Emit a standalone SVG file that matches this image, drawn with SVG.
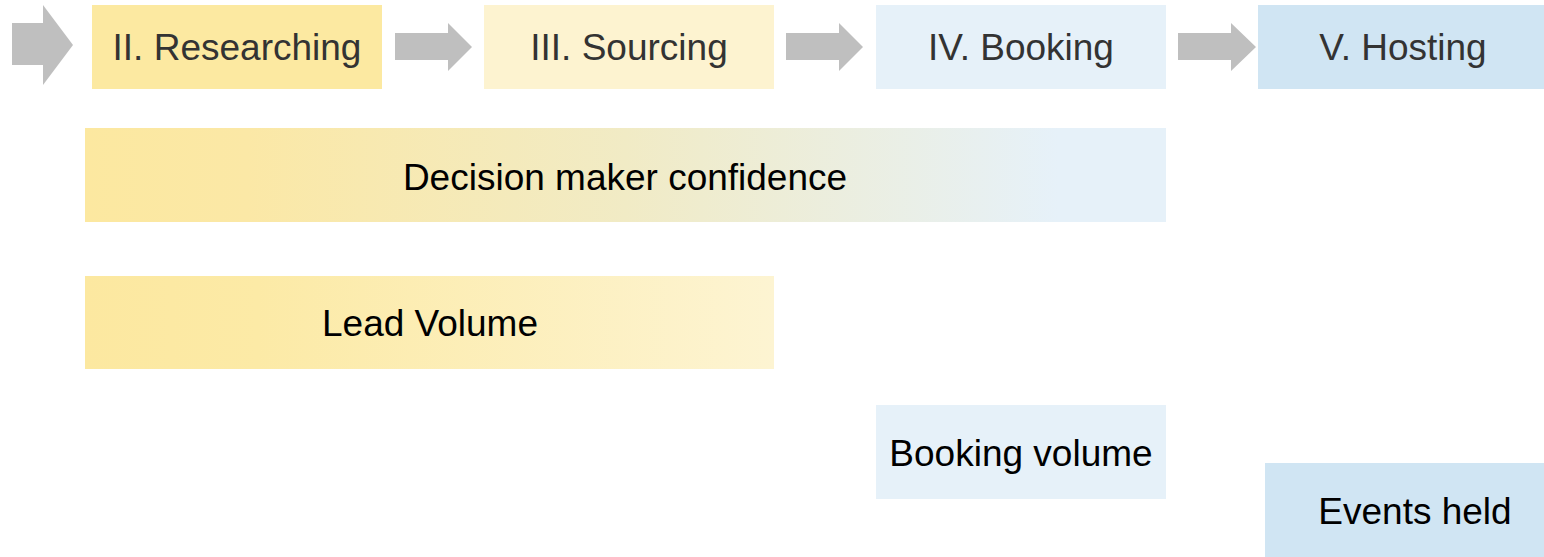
<svg xmlns="http://www.w3.org/2000/svg" width="1544" height="557" viewBox="0 0 1544 557">
<style>
.stage{font-family:"Liberation Sans",Arial,sans-serif;font-size:37px;fill:#333333;text-anchor:middle}
.metric{font-family:"Liberation Sans",Arial,sans-serif;font-size:37px;fill:#000000;text-anchor:middle}
.arrow{fill:#BFBFBF}
</style>
<defs>
<linearGradient id="gDec" x1="0" y1="0" x2="1" y2="0">
<stop offset="0" stop-color="#FCE8A0"/>
<stop offset="0.15" stop-color="#FBE8A6"/>
<stop offset="0.5" stop-color="#F1EBC5"/>
<stop offset="0.9" stop-color="#E6F1F9"/>
<stop offset="1" stop-color="#E6F1F9"/>
</linearGradient>
<linearGradient id="gLead" x1="0" y1="0" x2="1" y2="0">
<stop offset="0" stop-color="#FCE8A0"/>
<stop offset="0.25" stop-color="#FCEAA6"/>
<stop offset="1" stop-color="#FDF4D2"/>
</linearGradient>
</defs>
<g id="connectors">
<polygon class="arrow" points="12,23 43,23 43,5 73,45 43,85 43,65 12,65"/>
<polygon class="arrow" points="395,33 448,33 448,23 472,47 448,71 448,60 395,60"/>
<polygon class="arrow" points="786,33 839,33 839,23 863,47 839,71 839,60 786,60"/>
<polygon class="arrow" points="1178,33 1231,33 1231,23 1256,47 1231,71 1231,60 1178,60"/>
</g>
<g id="stage-researching">
<rect x="92" y="5" width="290" height="84" fill="#FCE9A1"/>
<text class="stage" x="237" y="60">II. Researching</text>
</g>
<g id="stage-sourcing">
<rect x="484" y="5" width="290" height="84" fill="#FDF3D0"/>
<text class="stage" x="629" y="60">III. Sourcing</text>
</g>
<g id="stage-booking">
<rect x="876" y="5" width="290" height="84" fill="#E6F1F9"/>
<text class="stage" x="1021" y="60">IV. Booking</text>
</g>
<g id="stage-hosting">
<rect x="1258" y="5" width="286" height="84" fill="#D0E5F3"/>
<text class="stage" x="1403" y="60">V. Hosting</text>
</g>
<g id="metric-decision">
<rect x="85" y="128" width="1081" height="94" fill="url(#gDec)"/>
<text class="metric" x="625" y="190">Decision maker confidence</text>
</g>
<g id="metric-lead">
<rect x="85" y="276" width="689" height="93" fill="url(#gLead)"/>
<text class="metric" x="430" y="336">Lead Volume</text>
</g>
<g id="metric-booking">
<rect x="876" y="405" width="290" height="94" fill="#E6F1F9"/>
<text class="metric" x="1021" y="466">Booking volume</text>
</g>
<g id="metric-events">
<rect x="1265" y="463" width="279" height="94" fill="#D0E5F3"/>
<text class="metric" x="1415" y="524">Events held</text>
</g>
</svg>
